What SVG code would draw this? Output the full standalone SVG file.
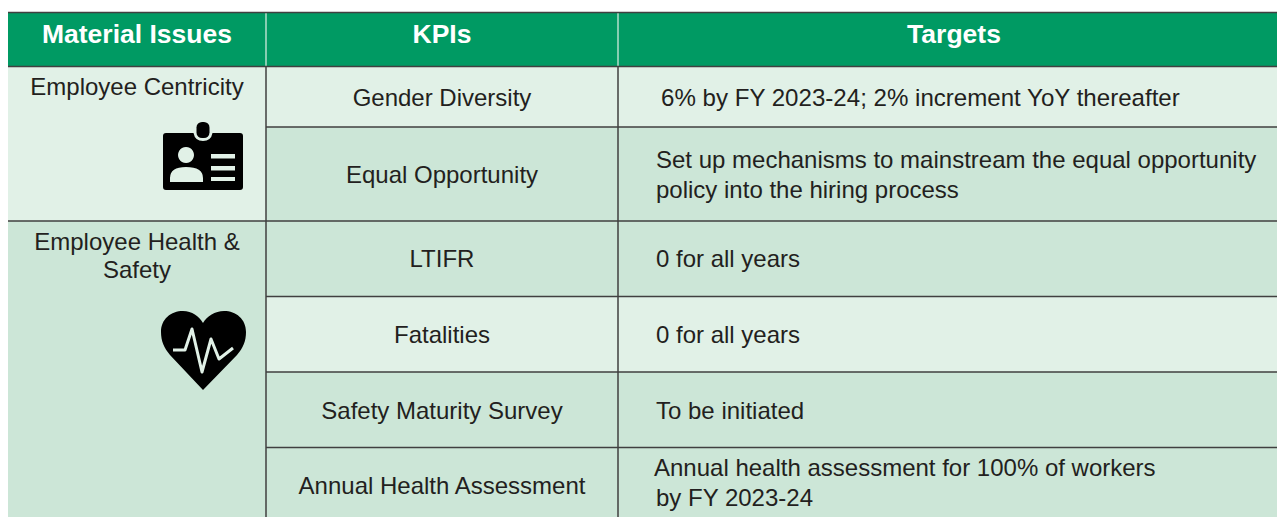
<svg xmlns="http://www.w3.org/2000/svg" width="1277" height="517" viewBox="0 0 1277 517">
<style>
text{font-family:"Liberation Sans",Arial,sans-serif;font-size:24px;fill:#231f20}
.h{font-weight:bold;font-size:26.500px;fill:#fff;text-anchor:middle}
.c{text-anchor:middle}
.l{fill:none;stroke:#404040;stroke-width:1.500}
.a{fill:#e1f1e7}.b{fill:#cce6d7}
</style>
<rect width="1277" height="517" fill="#fff"/>
<g id="header">
<rect x="8" y="12" width="1269" height="55" fill="#009a63"/>
<path d="M266 13V66M618 13V66" stroke="#dff1e7" stroke-width="1.200"/>
<text class="h" x="137" y="43">Material Issues</text>
<text class="h" x="442" y="43">KPIs</text>
<text class="h" x="954" y="43">Targets</text>
</g>
<g id="cells">
<rect class="a" x="8" y="67" width="258" height="154"/>
<rect class="b" x="8" y="221" width="258" height="296"/>
<rect class="a" x="266" y="67" width="1011" height="60"/>
<rect class="b" x="266" y="127" width="1011" height="94"/>
<rect class="b" x="266" y="221" width="1011" height="76"/>
<rect class="a" x="266" y="297" width="1011" height="75"/>
<rect class="b" x="266" y="372" width="1011" height="76"/>
<rect class="b" x="266" y="448" width="1011" height="69"/>
</g>
<g id="grid">
<path class="l" d="M8 12.500H1277M8 66.500H1277M266 127H1277M8 221H1277M266 296.500H1277M266 372H1277M266 447.500H1277M266 67V517M618 67V517"/>
</g>
<g id="issue-centricity">
<text class="c" x="137" y="95">Employee Centricity</text>
<g id="icon-badge">
<path fill-rule="evenodd" fill="#000" d="M166 133H193.500Q195 141 203 141Q211 141 212.500 133H240Q243 133 243 136V187Q243 190 240 190H166Q163 190 163 187V136Q163 133 166 133ZM186 147A8 8 0 1 0 186.010 147ZM170 182H203V178Q203 167 186 167Q170 167 170 178ZM211 154V158.500H235V154ZM211 166V170.500H235V166ZM211 177V181H235V177Z"/>
<rect x="196.500" y="122" width="13" height="16" rx="5.500" fill="#000"/>
</g>
</g>
<g id="issue-health">
<text class="c" x="137" y="250">Employee Health &amp;</text>
<text class="c" x="137" y="278">Safety</text>
<g id="icon-heart">
<path fill="#000" d="M203 390L170 355C164 348 161 341 161 332C161 319 171 311 183 311C192 311 199 316 203 323C207 316 215 311 224 311C236 311 246 319 246 332C246 341 243 348 237 355Z"/>
<path fill="none" stroke="#e1f1e7" stroke-width="3" stroke-linejoin="round" d="M173 350H185L192 329L202 372L211 339L219 359L233 348"/>
</g>
</g>
<g id="row-gender">
<text class="c" x="442" y="106">Gender Diversity</text>
<text x="661" y="106" style="font-size:24.100px">6% by FY 2023-24; 2% increment YoY thereafter</text>
</g>
<g id="row-equal">
<text class="c" x="442" y="183">Equal Opportunity</text>
<text x="656" y="168">Set up mechanisms to mainstream the equal opportunity</text>
<text x="656" y="198">policy into the hiring process</text>
</g>
<g id="row-ltifr">
<text class="c" x="442" y="267">LTIFR</text>
<text x="656" y="267">0 for all years</text>
</g>
<g id="row-fatalities">
<text class="c" x="442" y="343">Fatalities</text>
<text x="656" y="343">0 for all years</text>
</g>
<g id="row-survey">
<text class="c" x="442" y="419">Safety Maturity Survey</text>
<text x="656" y="419">To be initiated</text>
</g>
<g id="row-assessment">
<text class="c" x="442" y="494">Annual Health Assessment</text>
<text x="654" y="476">Annual health assessment for 100% of workers</text>
<text x="656" y="506">by FY 2023-24</text>
</g>
</svg>
